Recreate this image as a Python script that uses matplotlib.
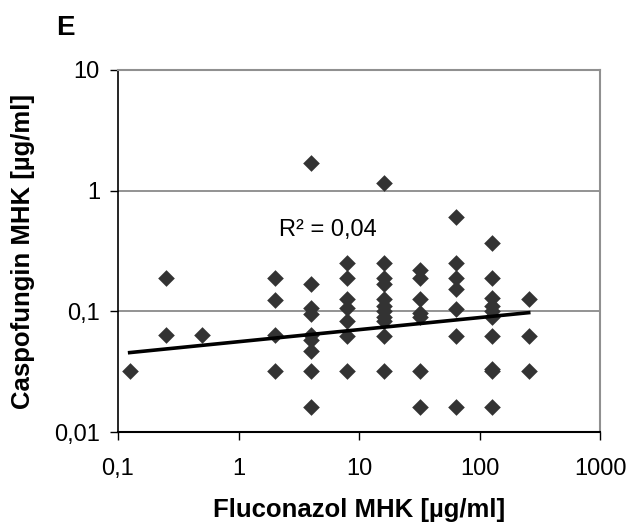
import numpy as np
import matplotlib
matplotlib.use('Agg')
import matplotlib.pyplot as plt

plt.rcParams['font.family'] = ['Liberation Sans', 'DejaVu Sans']

# Fluconazol MHK (x) and Caspofungin MHK (y), one list per fluconazol dilution
flc_levels = [0.125, 0.25, 0.5, 2, 4, 8, 16, 32, 64, 128, 256]
caspo_by_level = [
    [0.032],
    [0.19, 0.064],
    [0.064],
    [0.19, 0.125, 0.064, 0.032],
    [1.7, 0.167, 0.107, 0.095, 0.064, 0.058, 0.047, 0.032, 0.016],
    [0.25, 0.19, 0.127, 0.107, 0.083, 0.062, 0.032],
    [1.15, 0.25, 0.19, 0.167, 0.127, 0.11, 0.1, 0.09, 0.083, 0.062, 0.032],
    [0.22, 0.19, 0.127, 0.097, 0.089, 0.032, 0.016],
    [0.6, 0.25, 0.19, 0.154, 0.105, 0.062, 0.016],
    [0.37, 0.19, 0.13, 0.11, 0.1, 0.09, 0.062, 0.033, 0.032, 0.016],
    [0.127, 0.062, 0.032],
]
# power trendline as drawn in the chart (end points)
trend_x = [0.125, 256]
trend_y = [0.0455, 0.0975]
r2_label = 'R² = 0,04'

xticks = [0.1, 1, 10, 100, 1000]
xticklabels = ['0,1', '1', '10', '100', '1000']
yticks = [0.01, 0.1, 1, 10]
yticklabels = ['0,01', '0,1', '1', '10']

x = np.concatenate([[lv] * len(v) for lv, v in zip(flc_levels, caspo_by_level)])
y = np.concatenate(caspo_by_level)

# y = a * x^b through the two trend end points
b = np.log10(trend_y[1] / trend_y[0]) / np.log10(trend_x[1] / trend_x[0])
a = trend_y[0] / trend_x[0] ** b
xt = np.geomspace(trend_x[0], trend_x[1], 50)
yt = a * xt ** b

fig = plt.figure(figsize=(6.39, 5.22), dpi=100)
ax = fig.add_axes([118/639, 1-432/522, (600-118)/639, (432-70)/522])

ax.scatter(x, y, marker='D', s=72, color='#333333', linewidths=0, zorder=3)
ax.plot(xt, yt, color='black', lw=2.6, zorder=4)

ax.set_xscale('log')
ax.set_yscale('log')
ax.set_xlim(0.1, 1000)
ax.set_ylim(0.01, 10)
ax.set_xticks(xticks)
ax.set_xticklabels(xticklabels)
ax.set_yticks(yticks)
ax.set_yticklabels(yticklabels)
ax.minorticks_off()
ax.tick_params(direction='out', length=6, width=1, labelsize=17, pad=7, colors='black')
ax.tick_params(axis='x', pad=13)

for yy in [0.1, 1]:
    ax.axhline(yy, color='#808080', lw=1.2, zorder=1)

ax.spines['top'].set_color('#909090')
ax.spines['right'].set_color('#909090')
ax.spines['top'].set_linewidth(1.5)
ax.spines['right'].set_linewidth(1.5)
ax.spines['left'].set_color('black')
ax.spines['bottom'].set_color('black')
ax.spines['left'].set_linewidth(1.2)
ax.spines['bottom'].set_linewidth(1.5)

ax.text(2.17, 0.47, r2_label, fontsize=17, va='center')

ax.set_ylabel('Caspofungin MHK [µg/ml]', fontsize=18.5, fontweight='bold', labelpad=14)
fig.text(0.5 * (118 + 600) / 639, 1 - 510/522, 'Fluconazol MHK [µg/ml]', fontsize=18.5,
         fontweight='bold', ha='center', va='center')
fig.text(65/639, 1-28/522, 'E', fontsize=20, fontweight='bold', va='center', ha='center')

fig.savefig('out.png', dpi=100)
